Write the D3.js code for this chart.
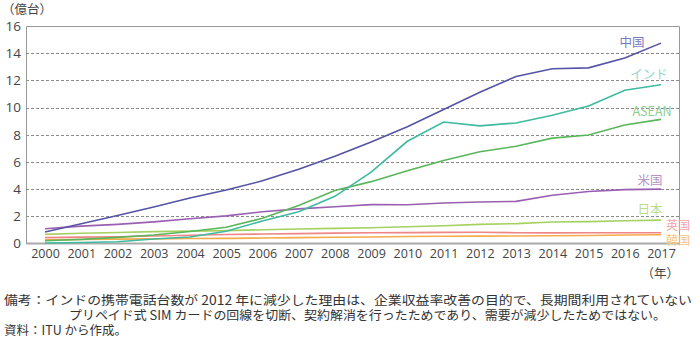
<!DOCTYPE html>
<html>
<head>
<meta charset="utf-8">
<script src="https://cdn.jsdelivr.net/npm/d3@7"></script>
<style>
  body { margin: 0; background: #fff; }
  svg text { font-family: "Open Sans", "Noto Sans CJK JP", sans-serif; }
  .jp { font-family: "Noto Sans CJK JP", sans-serif; }
</style>
</head>
<body>
<script>
// data (億台)
var years = d3.range(2000, 2018);
var china = [0.85, 1.45, 2.06, 2.69, 3.35, 3.93, 4.61, 5.47, 6.41, 7.47, 8.59, 9.86, 11.12, 12.29, 12.86, 12.92, 13.64, 14.74];
var india = [0.04, 0.07, 0.13, 0.33, 0.48, 0.90, 1.66, 2.33, 3.47, 5.25, 7.52, 8.94, 8.65, 8.87, 9.44, 10.11, 11.27, 11.68];
var asean = [0.20, 0.30, 0.45, 0.62, 0.88, 1.20, 1.85, 2.80, 3.90, 4.55, 5.35, 6.10, 6.75, 7.15, 7.75, 7.98, 8.72, 9.13];
var usa = [1.09, 1.28, 1.41, 1.59, 1.82, 2.03, 2.33, 2.55, 2.70, 2.86, 2.85, 2.98, 3.05, 3.10, 3.55, 3.82, 3.96, 4.00];
var japan = [0.67, 0.75, 0.81, 0.87, 0.91, 0.95, 1.01, 1.07, 1.11, 1.16, 1.23, 1.31, 1.41, 1.46, 1.58, 1.61, 1.67, 1.72];
var uk = [0.43, 0.47, 0.50, 0.55, 0.61, 0.66, 0.70, 0.73, 0.76, 0.79, 0.80, 0.82, 0.83, 0.79, 0.78, 0.79, 0.79, 0.79];
var korea = [0.27, 0.29, 0.32, 0.34, 0.37, 0.38, 0.40, 0.43, 0.46, 0.48, 0.51, 0.53, 0.54, 0.55, 0.57, 0.59, 0.62, 0.64];
var seriesNames = ["中国", "インド", "ASEAN", "米国", "日本", "英国", "韓国"];
var yTicks = [0, 2, 4, 6, 8, 10, 12, 14, 16];

var series = [
  { name: seriesNames[0], values: china, color: "#5553a6", label: "#7b79bb", lx: 632, ly: 42 },
  { name: seriesNames[1], values: india, color: "#3ebaa0", label: "#8fd8c8", lx: 649, ly: 74 },
  { name: seriesNames[2], values: asean, color: "#5ab65a", label: "#8fcf8f", lx: 652, ly: 111 },
  { name: seriesNames[3], values: usa, color: "#9a5fb0", label: "#b692c6", lx: 650, ly: 180 },
  { name: seriesNames[4], values: japan, color: "#a5d160", label: "#b9dc85", lx: 650, ly: 209 },
  { name: seriesNames[5], values: uk, color: "#f08585", label: "#f4a3a3", lx: 678, ly: 226 },
  { name: seriesNames[6], values: korea, color: "#f6ab4a", label: "#f8c27f", lx: 678, ly: 241 }
];

var W = 700, H = 339;
var mLeft = 26, mRight = 679, mTop = 26, mBottom = 243.5;

var svg = d3.select("body").append("svg").attr("width", W).attr("height", H);

var x = d3.scaleLinear().domain([2000, 2017]).range([45, 661]);
var y = d3.scaleLinear().domain([0, 16]).range([mBottom, mTop]);

// grid
svg.append("g").selectAll("line").data(yTicks.filter(function(d) { return d > 0 && d < 16; }))
  .enter().append("line")
  .attr("x1", mLeft).attr("x2", mRight)
  .attr("y1", function(d) { return Math.round(y(d)) + 0.5; }).attr("y2", function(d) { return Math.round(y(d)) + 0.5; })
  .attr("stroke", "#8a8a8a").attr("stroke-width", 1).attr("stroke-dasharray", "3,2");

// frame
svg.append("path")
  .attr("d", "M" + (mLeft + 0.5) + "," + mBottom + "V" + (mTop + 0.5) + "H" + (mRight + 0.5) + "V" + mBottom)
  .attr("fill", "none").attr("stroke", "#999").attr("stroke-width", 1);

// y axis
var yAxis = d3.axisLeft(y).tickValues(yTicks).tickSize(0).tickPadding(5);
var gy = svg.append("g").attr("transform", "translate(" + mLeft + ",0)").call(yAxis);
gy.select(".domain").remove();
gy.selectAll("text").attr("font-size", 13.5).attr("fill", "#444").attr("font-family", "Open Sans, sans-serif");

// x axis
var xAxis = d3.axisBottom(x).tickValues(years).tickFormat(d3.format("d")).tickSize(0).tickPadding(6);
var gx = svg.append("g").attr("transform", "translate(0," + mBottom + ")").call(xAxis);
gx.select(".domain").remove();
gx.selectAll("text").attr("font-size", 12.5).attr("fill", "#444").attr("font-family", "Open Sans, sans-serif");

svg.append("line").attr("x1", mLeft).attr("x2", mRight + 1).attr("y1", mBottom).attr("y2", mBottom)
  .attr("stroke", "#aaa").attr("stroke-width", 2);

// lines
var line = d3.line()
  .x(function(d, i) { return x(years[i]); })
  .y(function(d) { return y(d); });

var order = series.slice().reverse();
svg.append("g").selectAll("path").data(order).enter().append("path")
  .attr("d", function(s) { return line(s.values); })
  .attr("fill", "none")
  .attr("stroke", function(s) { return s.color; })
  .attr("stroke-width", 1.6);

// series labels
svg.append("g").selectAll("text").data(series).enter().append("text")
  .attr("class", "jp")
  .attr("x", function(s) { return s.lx; })
  .attr("y", function(s) { return s.ly; })
  .attr("dy", "0.36em")
  .attr("text-anchor", "middle")
  .attr("font-size", function(s, i) { return i >= 5 ? 12 : 12.5; })
  .attr("fill", function(s) { return s.label; })
  .text(function(s) { return s.name; });

// units
svg.append("text").attr("class", "jp").attr("x", 2).attr("y", 14)
  .attr("font-size", 12.5).attr("fill", "#444").text("（億台）");
svg.append("text").attr("class", "jp").attr("x", 679).attr("y", 278).attr("text-anchor", "end")
  .attr("font-size", 12.5).attr("fill", "#444").text("（年）");

// notes
var notes = [
  { x: 4, y: 305, w: 688, t: "備考：インドの携帯電話台数が 2012 年に減少した理由は、企業収益率改善の目的で、長期間利用されていない" },
  { x: 69, y: 320, w: 597, t: "プリペイド式 SIM カードの回線を切断、契約解消を行ったためであり、需要が減少したためではない。" },
  { x: 4, y: 335, w: 0, t: "資料：ITU から作成。" }
];
svg.append("g").selectAll("text").data(notes).enter().append("text")
  .attr("class", "jp")
  .attr("x", function(d) { return d.x; })
  .attr("y", function(d) { return d.y; })
  .attr("font-size", 12.5).attr("fill", "#333")
  .each(function(d) {
    if (d.w) d3.select(this).attr("textLength", d.w).attr("lengthAdjust", "spacingAndGlyphs");
  })
  .text(function(d) { return d.t; });
</script>
</body>
</html>
